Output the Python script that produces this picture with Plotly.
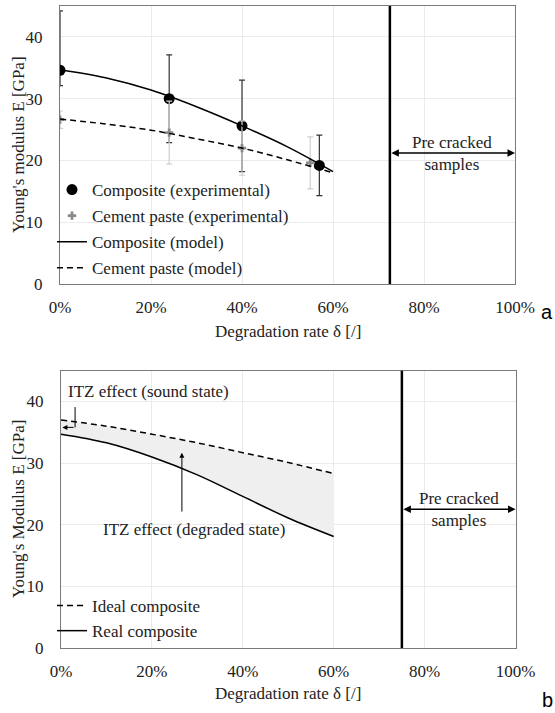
import plotly.graph_objects as go

# ---------------- data (panel a) ----------------
deg_exp_comp = [0, 24, 40, 57]
E_exp_comp = [34.6, 30.0, 25.6, 19.2]
E_comp_err_plus = [9.6, 7.1, 7.4, 4.9]
E_comp_err_minus = [2.5, 7.1, 7.4, 4.9]

deg_exp_paste = [0, 24, 40, 55]
E_exp_paste = [26.6, 24.5, 22.0, 19.6]
E_paste_err = [1.4, 5.1, 4.4, 4.2]

deg_model = [0, 10, 20, 30, 40, 50, 60]
E_model_comp = [34.7, 33.4, 31.4, 28.7, 25.6, 22.2, 18.2]
E_model_paste = [26.7, 25.9, 24.9, 23.5, 22.0, 20.1, 18.0]
limit_a = 72.5

# ---------------- data (panel b) ----------------
E_ideal = [37.0, 36.0, 34.7, 33.3, 31.7, 30.1, 28.3]
E_real = [34.7, 33.3, 31.0, 28.1, 24.6, 21.1, 18.1]
limit_b = 75

x_ticks = [0, 20, 40, 60, 80, 100]
x_tick_labels = ["0%", "20%", "40%", "60%", "80%", "100%"]
y_ticks = [0, 10, 20, 30, 40]
y_tick_labels = ["0", "10", "20", "30", "40"]

FONT = "Liberation Serif"
TXT = dict(family=FONT, size=17, color="#222")
fig = go.Figure()

# panel a traces
fig.add_trace(go.Scatter(
    x=deg_exp_comp, y=E_exp_comp, mode="markers", name="Composite (experimental)",
    marker=dict(symbol="circle", size=11, color="black"),
    error_y=dict(type="data", array=E_comp_err_plus, arrayminus=E_comp_err_minus,
                 color="#333333", thickness=1.2, width=3),
    legend="legend", legendgroup="a1", xaxis="x", yaxis="y"))
fig.add_trace(go.Scatter(
    x=deg_exp_paste, y=E_exp_paste, mode="markers", name="Cement paste (experimental)",
    marker=dict(symbol="cross", size=7, color="#8a8a8a"),
    error_y=dict(type="data", array=E_paste_err, color="#cfcfcf", thickness=1.2, width=3),
    legend="legend", legendgroup="a2", xaxis="x", yaxis="y"))
fig.add_trace(go.Scatter(
    x=deg_model, y=E_model_comp, mode="lines", name="Composite (model)",
    line=dict(color="black", width=1.5, shape="spline"),
    legend="legend", legendgroup="a3", xaxis="x", yaxis="y"))
fig.add_trace(go.Scatter(
    x=deg_model, y=E_model_paste, mode="lines", name="Cement paste (model)",
    line=dict(color="black", width=1.5, dash="6px,4px", shape="spline"),
    legend="legend", legendgroup="a4", xaxis="x", yaxis="y"))

# panel b traces
fig.add_trace(go.Scatter(
    x=deg_model, y=E_real, mode="lines", showlegend=False,
    line=dict(color="rgba(0,0,0,0)", shape="spline"), xaxis="x2", yaxis="y2", hoverinfo="skip"))
fig.add_trace(go.Scatter(
    x=deg_model, y=E_ideal, mode="lines", showlegend=False, fill="tonexty",
    fillcolor="#efefef", line=dict(color="rgba(0,0,0,0)", shape="spline"),
    xaxis="x2", yaxis="y2", hoverinfo="skip"))
fig.add_trace(go.Scatter(
    x=deg_model, y=E_ideal, mode="lines", name="Ideal composite",
    line=dict(color="black", width=1.5, dash="6px,4px", shape="spline"),
    legend="legend2", legendgroup="b1", xaxis="x2", yaxis="y2"))
fig.add_trace(go.Scatter(
    x=deg_model, y=E_real, mode="lines", name="Real composite",
    line=dict(color="black", width=1.5, shape="spline"),
    legend="legend2", legendgroup="b2", xaxis="x2", yaxis="y2"))

axis_common = dict(showgrid=True, gridcolor="#ebebeb", gridwidth=1, zeroline=False,
                   showline=True, linecolor="#7a7a7a", linewidth=1.2, mirror=True,
                   ticks="", automargin=False, tickfont=TXT, tickmode="array")
xa = dict(range=[0, 100], tickvals=x_ticks, ticktext=x_tick_labels, ticklabelstandoff=7, **axis_common)
ya = dict(range=[0, 45], tickvals=y_ticks, ticktext=y_tick_labels, ticklabelstandoff=13, **axis_common)

fig.update_layout(
    template="none",
    width=555, height=713, margin=dict(l=0, r=0, t=0, b=0, autoexpand=False),
    paper_bgcolor="white", plot_bgcolor="white",
    font=TXT,
    xaxis=dict(domain=[60/555, 515/555], anchor="y", **xa),
    yaxis=dict(domain=[1-284/713, 1-6/713], anchor="x", **ya),
    xaxis2=dict(domain=[61/555, 515.5/555], anchor="y2", **xa),
    yaxis2=dict(domain=[1-648/713, 1-370.7/713], anchor="x2", **ya),
    legend=dict(x=52/555, y=1-172/713, xanchor="left", yanchor="top", bgcolor="rgba(0,0,0,0)",
                font=TXT, tracegroupgap=1, itemwidth=30, borderwidth=0),
    legend2=dict(x=52/555, y=1-588/713, xanchor="left", yanchor="top", bgcolor="rgba(0,0,0,0)",
                 font=TXT, tracegroupgap=0, itemwidth=30, borderwidth=0),
)

# vertical limits
fig.add_shape(type="line", xref="x", yref="y domain", x0=limit_a, x1=limit_a, y0=0, y1=1,
              line=dict(color="black", width=2.5))
fig.add_shape(type="line", xref="x2", yref="y2 domain", x0=limit_b, x1=limit_b, y0=0, y1=1,
              line=dict(color="black", width=2.5))

# pre-cracked arrows + text
for xr, yr, lim, yv in [("x", "y", limit_a, 21.2), ("x2", "y2", limit_b, 22.5)]:
    fig.add_annotation(xref=xr, yref=yr, x=100, y=yv, ax=lim, ay=yv, axref=xr, ayref=yr,
                       text="", showarrow=True, arrowhead=2, arrowside="end+start",
                       arrowsize=1, arrowwidth=1.5, arrowcolor="black")
    fig.add_annotation(xref=xr, yref=yr, x=(lim+100)/2, y=yv, text="Pre cracked<br>samples",
                       showarrow=False, font=TXT, xanchor="center", yanchor="middle")

# ITZ annotations (panel b)
fig.add_annotation(xref="x2", yref="y2", x=1.1, y=41.7, xanchor="left", yanchor="middle",
                   text="ITZ effect (sound state)", showarrow=False, font=TXT)
fig.add_shape(type="line", xref="x2", yref="y2", x0=3.1, x1=3.1, y0=39.1, y1=35.8,
              line=dict(color="black", width=1))
fig.add_annotation(xref="x2", yref="y2", x=0.3, y=35.8, ax=3.1, ay=35.8, axref="x2", ayref="y2",
                   text="", showarrow=True, arrowhead=2, arrowsize=1, arrowwidth=1,
                   arrowcolor="black")
fig.add_annotation(xref="x2", yref="y2", x=29.3, y=19.2, text="ITZ effect (degraded state)",
                   showarrow=False, font=TXT, xanchor="center", yanchor="middle")
fig.add_annotation(xref="x2", yref="y2", x=26.6, y=31.7, ax=26.6, ay=21.9, axref="x2", ayref="y2",
                   text="", showarrow=True, arrowhead=2, arrowsize=1, arrowwidth=1,
                   arrowcolor="black")

# axis titles
for xpx, ypx, txt, ang in [(287.5, 331, "Degradation rate δ [/]", 0),
                           (288, 693, "Degradation rate δ [/]", 0),
                           (18, 145, "Young's modulus E [GPa]", -90),
                           (18, 509, "Young's Modulus E [GPa]", -90)]:
    fig.add_annotation(xref="paper", yref="paper", x=xpx/555, y=1-ypx/713, text=txt,
                       textangle=ang, showarrow=False, font=TXT,
                       xanchor="center", yanchor="middle")

# panel letters
for ypx, letter in [(312, "a"), (700, "b")]:
    fig.add_annotation(xref="paper", yref="paper", x=547/555, y=1-ypx/713, text=letter,
                       showarrow=False, xanchor="center", yanchor="middle",
                       font=dict(family="Liberation Sans", size=20, color="black"))

fig.write_html("out.html", config={"displayModeBar": False},
               post_script="document.body.style.margin='0';document.body.style.overflow='hidden';")
